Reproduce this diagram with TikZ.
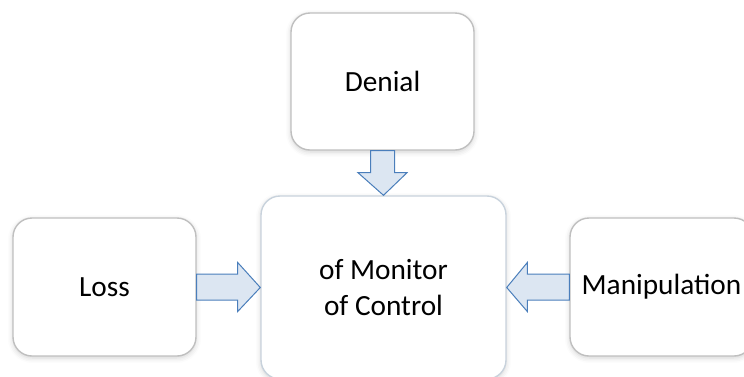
\documentclass[tikz,border=0pt]{standalone}
\usepackage{fontspec}
\setmainfont{Carlito}
\usetikzlibrary{calc,shadows.blur}
\definecolor{boxline}{HTML}{BFBFBF}
\definecolor{coreline}{HTML}{C8D2DC}
\definecolor{arrowfill}{HTML}{DCE6F2}
\definecolor{arrowline}{HTML}{4A7EBB}
\tikzset{
  roundbox/.style={draw=boxline, line width=1.4pt, fill=white, rounded corners=19pt,
    minimum width=183pt, minimum height=137pt, align=center, inner sep=0pt,
    font=\fontsize{29.3}{36}\selectfont,
    blur shadow={shadow xshift=0pt, shadow yshift=-2pt, shadow blur radius=5pt, shadow opacity=18}},
  corebox/.style={roundbox, draw=coreline, minimum width=245pt, minimum height=183pt},
  fatarrow/.style={draw=arrowline, fill=arrowfill, line width=1pt, line join=miter}
}
\begin{document}
\begin{tikzpicture}[x=1pt, y=-1pt]
  \useasboundingbox (0,0) rectangle (744,376);
  \begin{scope}
    \clip (0,0) rectangle (744,376);
    % boxes
    \node[roundbox] (denial) at (382.5,81.5) {Denial};
    \node[roundbox, minimum height=138pt] (loss) at (104.5,287) {Loss};
    \node[corebox] (core) at (383.5,287.5) {of Monitor\\of Control};
    \node[roundbox, minimum height=138pt] (manip) at (661.5,287) {Manipulation};
    % block arrow from Denial down to the core box
    \draw[fatarrow] ($(denial.south)+(-12,0)$) -- ++(0,22) -- ++(-12.5,0)
      -- (core.north) -- ($(denial.south)+(24.5,22)$) -- ++(-12.5,0)
      -- ($(denial.south)+(12,0)$) -- cycle;
    % block arrow from Loss right to the core box
    \draw[fatarrow] ($(loss.east)+(0,-13)$) -- ++(41,0) -- ++(0,-11.5)
      -- (core.west) -- ($(loss.east)+(41,24.5)$) -- ++(0,-11.5)
      -- ($(loss.east)+(0,13)$) -- cycle;
    % block arrow from Manipulation left to the core box
    \draw[fatarrow] ($(manip.west)+(0,-13)$) -- ++(-42,0) -- ++(0,-11.5)
      -- (core.east) -- ($(manip.west)+(-42,24.5)$) -- ++(0,-11.5)
      -- ($(manip.west)+(0,13)$) -- cycle;
  \end{scope}
\end{tikzpicture}
\end{document}
